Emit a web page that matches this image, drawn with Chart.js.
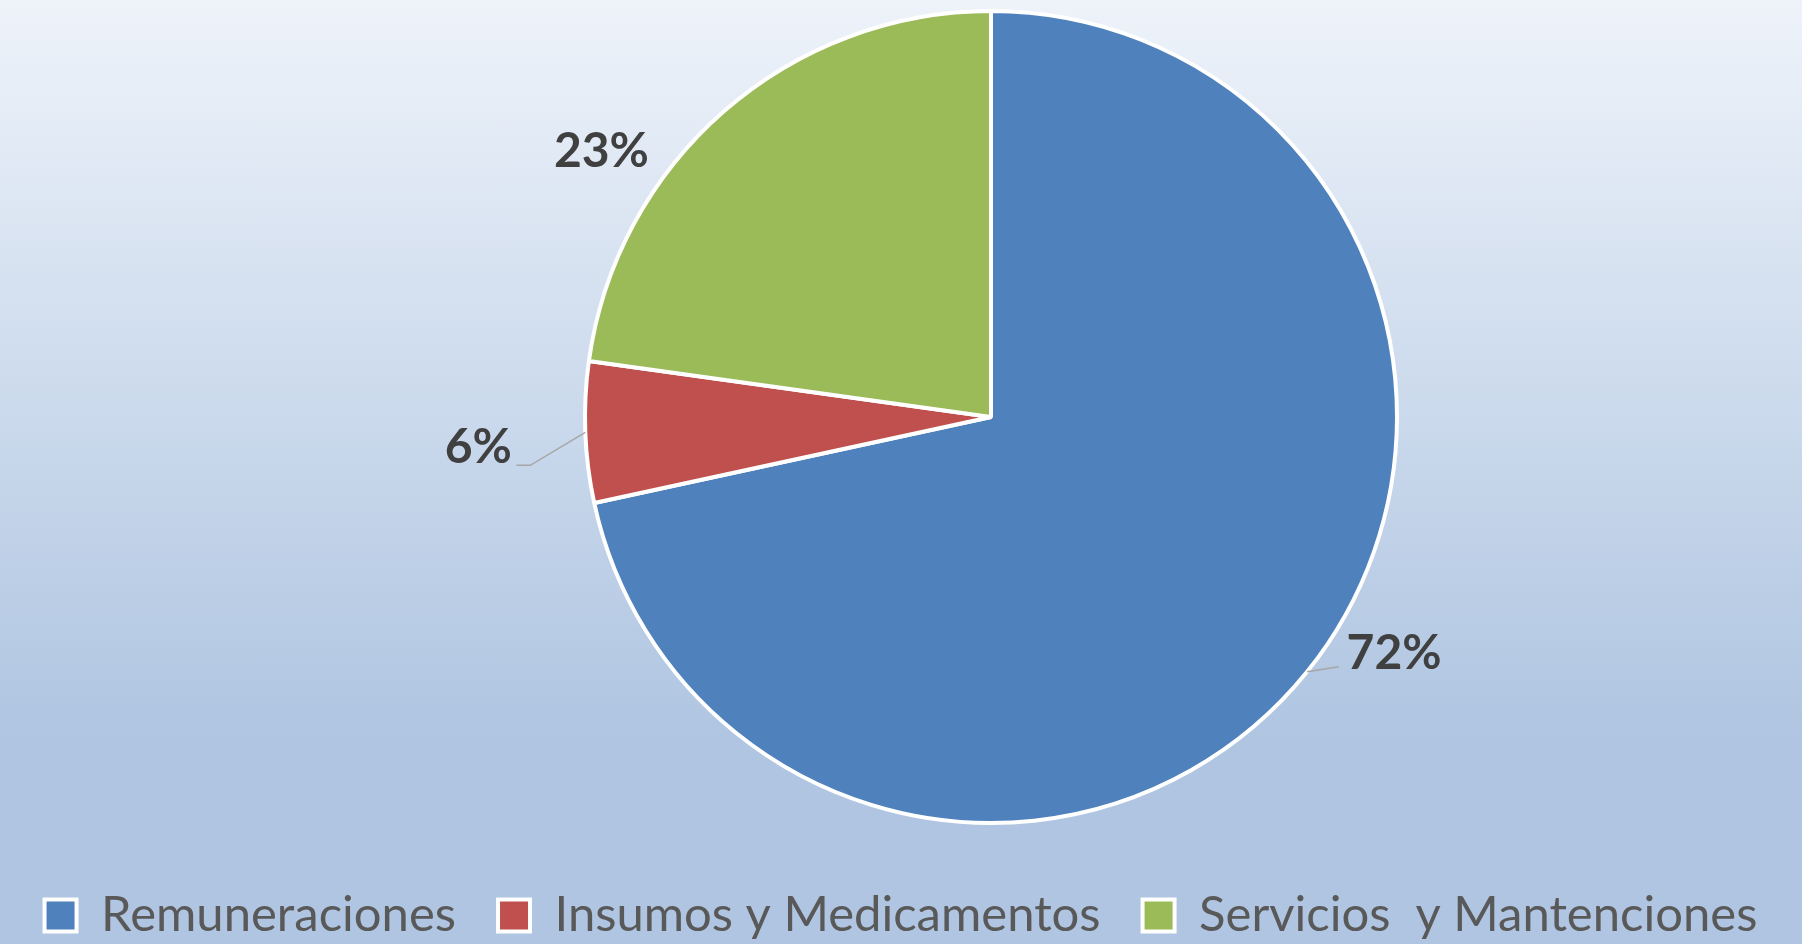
<!DOCTYPE html>
<html>
<head>
<meta charset="utf-8">
<script src="https://cdn.jsdelivr.net/npm/chart.js@4.4.0/dist/chart.umd.min.js"></script>
<style>
html, body { margin: 0; padding: 0; }
body {
    width: 1802px; height: 944px; overflow: hidden;
    background: linear-gradient(to bottom, #EEF3FA 0%, #AFC5E1 78%, #AFC5E1 100%);
}
</style>
</head>
<body>
<canvas id="myChart" width="1802" height="944"></canvas>
<script>
var categories = ["Remuneraciones", "Insumos y Medicamentos", "Servicios  y Mantenciones"];
var values = [71.6, 5.6, 22.8];
var colors = ["#4F81BD", "#C0504D", "#9BBB59"];

// where each % label sits, relative to the middle of the slice's outer edge
var labelOffsets = [[87, -18], [-107, 15], [-123, 41]];
var leaderLines = [[[32, -5]], [[-55, 33], [-69, 33]], null];

var getTotal = function (list) {
    return list.reduce(function (total, next) { return total + next; }, 0);
};

// push the pie right of the canvas middle and the legend a bit lower, as in the original
var shiftBoxes = {
    id: 'shiftBoxes',
    afterLayout: function (chart) {
        var a = chart.chartArea;
        a.left += 180;
        a.top -= 9;
        a.width = a.right - a.left;
        a.height = a.bottom - a.top;
        chart.legend.top += 6;
        chart.legend.bottom += 6;
    }
};

var pctLabels = {
    id: 'pctLabels',
    afterDatasetsDraw: function (chart) {
        var ctx = chart.ctx;
        var total = getTotal(values);
        ctx.save();
        chart.getDatasetMeta(0).data.forEach(function (arc, i) {
            var p = arc.getProps(['x', 'y', 'startAngle', 'endAngle', 'outerRadius']);
            var mid = (p.startAngle + p.endAngle) / 2;
            var ex = p.x + Math.cos(mid) * p.outerRadius;
            var ey = p.y + Math.sin(mid) * p.outerRadius;
            if (leaderLines[i]) {
                ctx.beginPath();
                ctx.moveTo(ex, ey);
                leaderLines[i].forEach(function (pt) { ctx.lineTo(ex + pt[0], ey + pt[1]); });
                ctx.strokeStyle = '#A6A6A6';
                ctx.lineWidth = 1.5;
                ctx.stroke();
            }
            ctx.font = 'bold 48px Lato';
            ctx.fillStyle = '#404040';
            ctx.textAlign = 'center';
            ctx.textBaseline = 'middle';
            ctx.fillText(Math.round(values[i] / total * 100) + '%', ex + labelOffsets[i][0], ey + labelOffsets[i][1]);
        });
        ctx.restore();
    }
};

function draw() {
    new Chart($("myChart"), {
        type: 'pie',
        data: {
            labels: categories,
            datasets: [{
                data: values,
                backgroundColor: colors,
                borderColor: '#FFFFFF',
                borderWidth: 4
            }]
        },
        options: {
            responsive: false,
            devicePixelRatio: 1,
            animation: false,
            events: [],
            radius: 406,
            plugins: {
                legend: {
                    position: 'bottom',
                    labels: {
                        boxWidth: 32,
                        boxHeight: 32,
                        padding: 42,
                        color: '#595959',
                        font: { family: 'Lato', size: 49 }
                    }
                },
                tooltip: { enabled: false }
            }
        },
        plugins: [shiftBoxes, pctLabels]
    });
}

function $(id) { return document.getElementById(id); }

document.fonts.load('49px Lato').then(function () {
    return document.fonts.load('bold 48px Lato');
}).then(draw, draw);
</script>
</body>
</html>
